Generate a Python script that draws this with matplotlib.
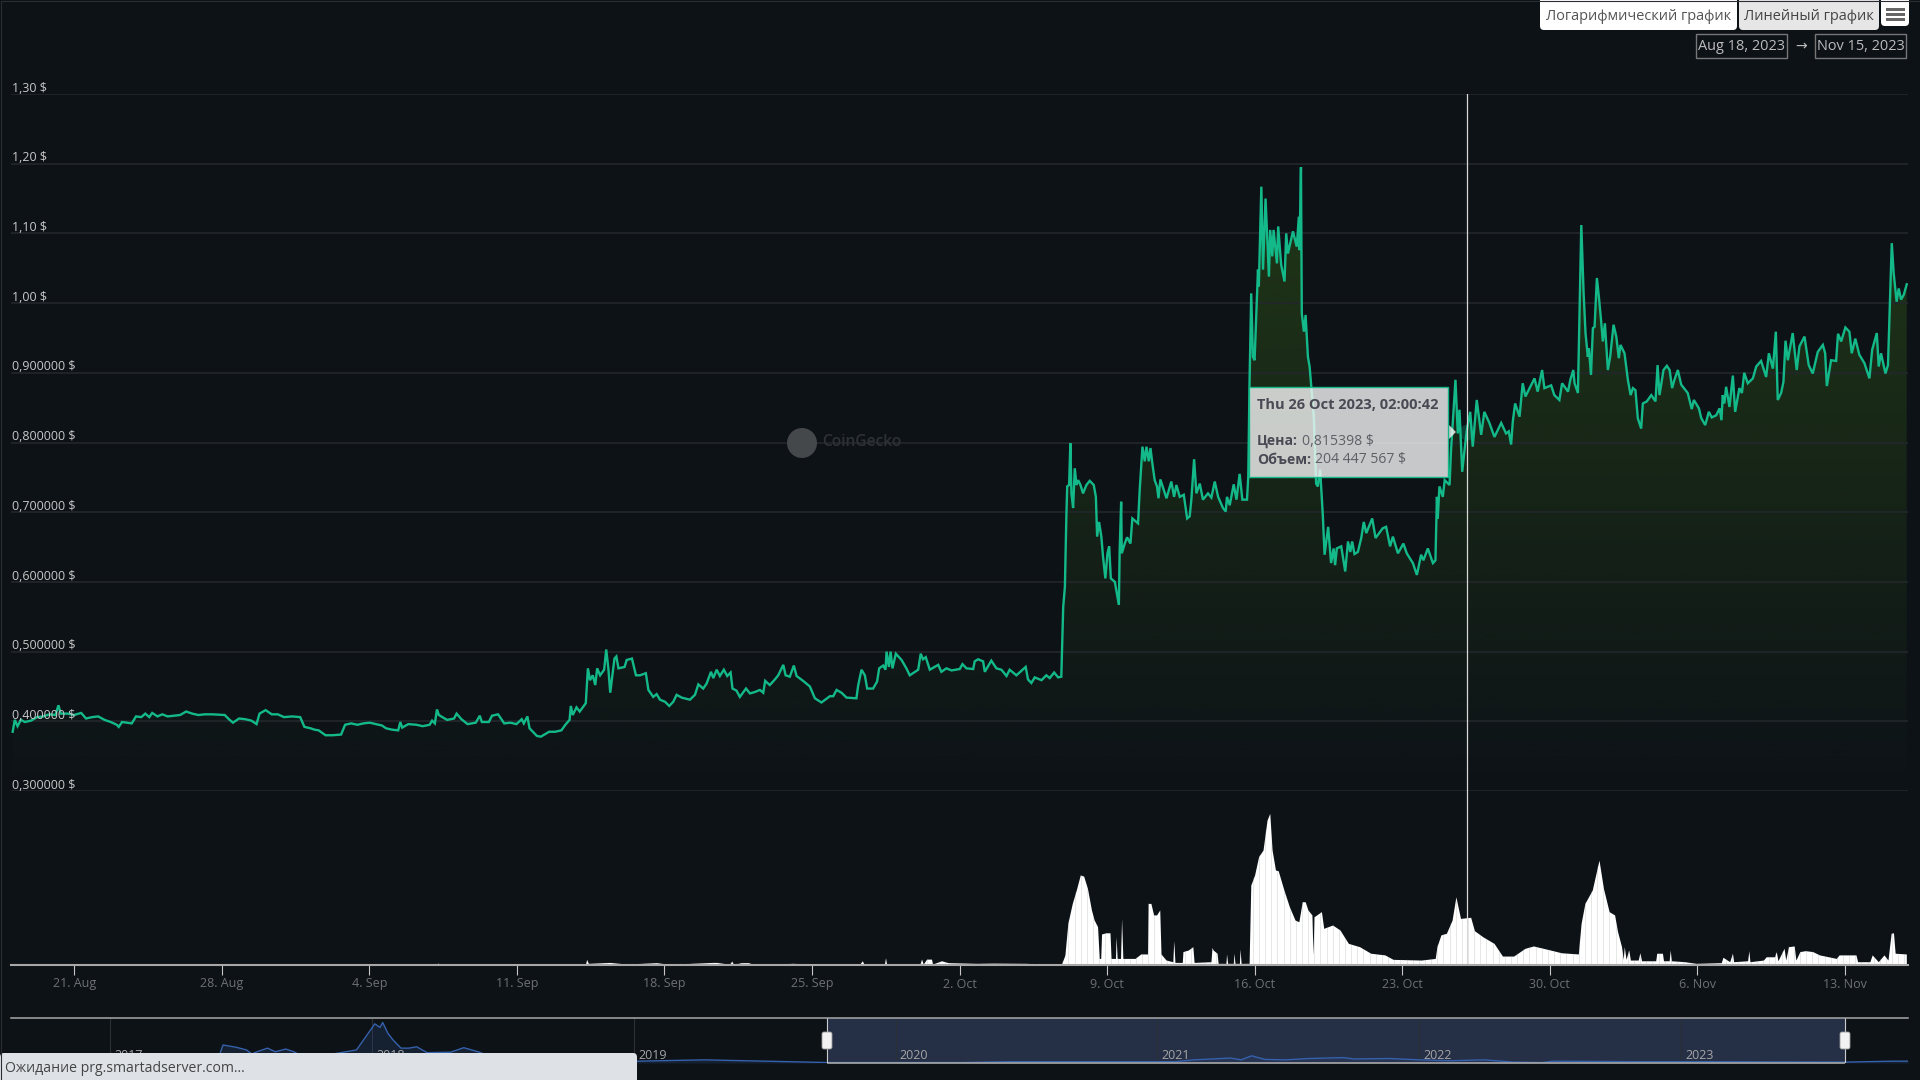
import matplotlib
matplotlib.use("Agg")
import matplotlib.pyplot as plt
import numpy as np
from matplotlib.patches import Circle, FancyBboxPatch, Polygon, Rectangle

plt.rcParams["font.family"] = ["Open Sans", "DejaVu Sans"]

# price, x = days since 18 Aug 2023 00:00
price_days = [
    0.08, 0.18, 0.31, 0.47, 0.66, 0.95, 1.24, 1.53, 1.82, 2.11, 2.25, 2.36, 2.69, 2.98, 3.33, 3.56, 3.85, 4.14, 4.44, 4.73,
    5.02, 5.11, 5.27, 5.50, 5.73, 5.93, 6.18, 6.37, 6.56, 6.70, 6.95, 7.18, 7.43, 7.73, 8.02, 8.31, 8.60, 8.89, 9.18, 9.56,
    10.14, 10.34, 10.53, 10.82, 11.11, 11.40, 11.65, 11.79, 12.08, 12.37, 12.66, 12.95, 13.34, 13.72, 13.92, 14.21, 14.40, 14.60, 14.92, 15.27,
    15.66, 15.85, 16.14, 16.43, 16.72, 17.02, 17.31, 17.60, 17.79, 18.08, 18.37, 18.47, 18.56, 18.85, 19.24, 19.53, 19.86, 19.98, 20.11, 20.21,
    20.30, 20.69, 21.02, 21.14, 21.37, 21.66, 22.05, 22.24, 22.34, 22.67, 22.82, 23.11, 23.40, 23.69, 23.98, 24.23, 24.33, 24.50, 24.60, 24.95,
    25.14, 25.53, 25.82, 26.11, 26.30, 26.50, 26.56, 26.65, 26.83, 26.98, 27.27, 27.37, 27.47, 27.60, 27.72, 27.81, 27.95, 28.14, 28.24, 28.34,
    28.43, 28.63, 28.72, 28.82, 29.11, 29.21, 29.46, 29.65, 29.84, 30.12, 30.24, 30.47, 30.63, 30.79, 31.03, 31.23, 31.42, 31.58, 31.82, 32.21,
    32.45, 32.61, 32.84, 33.00, 33.21, 33.32, 33.48, 33.63, 33.82, 33.98, 34.14, 34.23, 34.42, 34.58, 34.87, 35.06, 35.29, 35.53, 35.69, 35.78,
    36.00, 36.24, 36.40, 36.64, 36.75, 36.95, 37.14, 37.27, 37.58, 37.90, 38.14, 38.45, 38.85, 39.01, 39.17, 39.40, 39.64, 40.11, 40.19, 40.35,
    40.51, 40.62, 40.90, 41.09, 41.19, 41.38, 41.49, 41.54, 41.65, 41.73, 41.82, 41.98, 42.25, 42.48, 42.64, 43.04, 43.16, 43.27, 43.40, 43.59,
    43.99, 44.14, 44.38, 44.62, 45.01, 45.14, 45.33, 45.65, 45.72, 45.88, 46.12, 46.20, 46.51, 46.75, 46.99, 47.23, 47.38, 47.70, 48.14, 48.25,
    48.41, 48.57, 48.89, 49.12, 49.28, 49.49, 49.68, 49.83, 49.92, 50.00, 50.07, 50.11, 50.20, 50.26, 50.31, 50.39, 50.47, 50.55, 50.63, 50.74,
    50.86, 51.02, 51.18, 51.37, 51.47, 51.53, 51.62, 51.73, 51.81, 51.92, 52.02, 52.10, 52.18, 52.37, 52.56, 52.60, 52.67, 52.70, 52.84, 52.95,
    53.11, 53.20, 53.47, 53.55, 53.68, 53.79, 53.87, 53.98, 54.06, 54.15, 54.26, 54.37, 54.44, 54.53, 54.82, 55.05, 55.18, 55.29, 55.45, 55.64,
    55.80, 55.92, 56.00, 56.13, 56.24, 56.40, 56.55, 56.79, 56.95, 57.11, 57.27, 57.50, 57.63, 57.69, 57.82, 58.01, 58.14, 58.29, 58.42, 58.64,
    58.70, 58.76, 58.84, 58.92, 59.00, 59.16, 59.20, 59.32, 59.40, 59.52, 59.68, 59.74, 59.84, 59.90, 60.06, 60.12, 60.26, 60.42, 60.50, 60.58,
    60.82, 61.00, 61.10, 61.13, 61.20, 61.24, 61.34, 61.42, 61.53, 61.61, 61.69, 61.81, 61.92, 62.00, 62.11, 62.24, 62.32, 62.49, 62.63, 62.75,
    62.82, 62.90, 63.11, 63.30, 63.43, 63.54, 63.63, 63.74, 63.90, 64.06, 64.18, 64.30, 64.58, 64.74, 65.08, 65.24, 65.43, 65.56, 65.80, 66.06,
    66.22, 66.51, 66.70, 66.90, 67.01, 67.22, 67.46, 67.58, 67.65, 67.69, 67.77, 67.93, 68.02, 68.25, 68.32, 68.53, 68.64, 68.72, 68.85, 68.96,
    69.07, 69.23, 69.35, 69.54, 69.75, 69.90, 70.14, 70.38, 70.70, 70.93, 71.06, 71.17, 71.25, 71.36, 71.57, 71.72, 71.85, 72.28, 72.43, 72.64,
    72.75, 73.07, 73.22, 73.46, 73.59, 73.87, 73.98, 74.12, 74.18, 74.34, 74.42, 74.50, 74.61, 74.70, 74.81, 74.86, 74.96, 75.05, 75.13, 75.24,
    75.34, 75.45, 75.52, 75.62, 75.76, 75.87, 76.03, 76.16, 76.28, 76.36, 76.55, 76.71, 76.84, 76.95, 77.07, 77.18, 77.34, 77.42, 77.61, 77.82,
    78.02, 78.12, 78.21, 78.40, 78.56, 78.69, 78.81, 78.92, 79.08, 79.24, 79.55, 79.74, 79.84, 80.08, 80.19, 80.38, 80.55, 80.69, 80.90, 81.06,
    81.15, 81.21, 81.29, 81.37, 81.53, 81.69, 81.80, 82.00, 82.12, 82.23, 82.40, 82.64, 82.80, 83.03, 83.27, 83.40, 83.59, 83.73, 83.82, 83.98,
    84.09, 84.19, 84.30, 84.53, 84.72, 84.85, 85.09, 85.29, 85.48, 85.72, 85.96, 86.07, 86.15, 86.35, 86.59, 86.68, 86.83, 87.03, 87.22, 87.33,
    87.50, 87.69, 87.93, 88.17, 88.30, 88.52, 88.61, 88.72, 88.93, 89.05, 89.23, 89.32, 89.46, 89.56, 89.67, 89.80, 89.94,
]
price_values = [
    0.385, 0.402, 0.393, 0.402, 0.399, 0.401, 0.406, 0.407, 0.410, 0.409, 0.423, 0.411, 0.411, 0.409, 0.412, 0.404, 0.406, 0.407, 0.402, 0.399,
    0.395, 0.392, 0.399, 0.398, 0.397, 0.407, 0.406, 0.411, 0.406, 0.412, 0.407, 0.410, 0.407, 0.408, 0.409, 0.414, 0.411, 0.409, 0.410, 0.410,
    0.409, 0.403, 0.398, 0.404, 0.403, 0.401, 0.396, 0.411, 0.416, 0.410, 0.410, 0.406, 0.407, 0.406, 0.392, 0.390, 0.388, 0.387, 0.380, 0.380,
    0.381, 0.395, 0.397, 0.395, 0.397, 0.398, 0.396, 0.394, 0.390, 0.388, 0.387, 0.399, 0.391, 0.396, 0.395, 0.393, 0.395, 0.401, 0.397, 0.417,
    0.409, 0.402, 0.404, 0.411, 0.403, 0.396, 0.398, 0.408, 0.399, 0.399, 0.408, 0.410, 0.397, 0.398, 0.396, 0.403, 0.397, 0.407, 0.390, 0.379,
    0.378, 0.385, 0.385, 0.387, 0.395, 0.402, 0.422, 0.409, 0.420, 0.414, 0.426, 0.476, 0.459, 0.466, 0.452, 0.476, 0.466, 0.474, 0.503, 0.476,
    0.441, 0.490, 0.493, 0.476, 0.478, 0.488, 0.490, 0.466, 0.466, 0.469, 0.445, 0.435, 0.439, 0.431, 0.428, 0.422, 0.428, 0.438, 0.434, 0.431,
    0.438, 0.453, 0.447, 0.454, 0.471, 0.462, 0.474, 0.465, 0.474, 0.465, 0.470, 0.447, 0.444, 0.435, 0.447, 0.440, 0.442, 0.445, 0.441, 0.458,
    0.452, 0.460, 0.466, 0.481, 0.466, 0.464, 0.480, 0.465, 0.458, 0.450, 0.433, 0.427, 0.436, 0.436, 0.445, 0.441, 0.434, 0.433, 0.451, 0.474,
    0.466, 0.447, 0.447, 0.457, 0.476, 0.480, 0.474, 0.500, 0.478, 0.500, 0.476, 0.497, 0.488, 0.476, 0.466, 0.474, 0.497, 0.489, 0.492, 0.474,
    0.481, 0.471, 0.476, 0.473, 0.475, 0.482, 0.476, 0.475, 0.486, 0.489, 0.486, 0.471, 0.487, 0.476, 0.474, 0.465, 0.474, 0.466, 0.478, 0.460,
    0.455, 0.463, 0.459, 0.466, 0.462, 0.470, 0.463, 0.464, 0.564, 0.593, 0.694, 0.737, 0.739, 0.799, 0.727, 0.706, 0.763, 0.739, 0.746, 0.739,
    0.727, 0.739, 0.745, 0.739, 0.722, 0.665, 0.686, 0.665, 0.636, 0.605, 0.641, 0.651, 0.605, 0.600, 0.567, 0.646, 0.715, 0.641, 0.655, 0.664,
    0.655, 0.691, 0.684, 0.732, 0.794, 0.773, 0.794, 0.773, 0.792, 0.770, 0.746, 0.737, 0.720, 0.747, 0.720, 0.744, 0.722, 0.739, 0.722, 0.725,
    0.691, 0.694, 0.718, 0.776, 0.727, 0.741, 0.718, 0.727, 0.721, 0.744, 0.722, 0.706, 0.701, 0.722, 0.710, 0.740, 0.718, 0.755, 0.718, 0.718,
    0.751, 0.885, 1.014, 0.923, 0.918, 1.048, 1.024, 1.167, 1.048, 1.150, 1.038, 1.105, 1.067, 1.105, 1.057, 1.110, 1.055, 1.031, 1.100, 1.071,
    1.103, 1.081, 1.124, 1.076, 1.195, 0.985, 0.959, 0.983, 0.923, 0.909, 0.880, 0.837, 0.741, 0.737, 0.761, 0.694, 0.639, 0.679, 0.627, 0.648,
    0.624, 0.648, 0.651, 0.615, 0.658, 0.643, 0.658, 0.640, 0.643, 0.663, 0.686, 0.670, 0.691, 0.663, 0.677, 0.679, 0.651, 0.665, 0.641, 0.655,
    0.641, 0.627, 0.610, 0.639, 0.631, 0.648, 0.627, 0.631, 0.722, 0.691, 0.737, 0.722, 0.746, 0.739, 0.789, 0.890, 0.813, 0.847, 0.758, 0.789,
    0.818, 0.844, 0.794, 0.861, 0.811, 0.844, 0.828, 0.808, 0.828, 0.813, 0.816, 0.797, 0.830, 0.856, 0.837, 0.885, 0.866, 0.892, 0.873, 0.904,
    0.878, 0.882, 0.868, 0.861, 0.885, 0.873, 0.890, 0.904, 0.885, 0.871, 0.990, 1.112, 1.014, 0.957, 0.923, 0.935, 0.897, 0.964, 0.966, 1.036,
    1.007, 0.971, 0.945, 0.971, 0.904, 0.923, 0.969, 0.952, 0.921, 0.940, 0.928, 0.890, 0.868, 0.878, 0.875, 0.835, 0.820, 0.856, 0.859, 0.868,
    0.859, 0.911, 0.868, 0.904, 0.910, 0.904, 0.878, 0.890, 0.904, 0.883, 0.871, 0.848, 0.861, 0.849, 0.835, 0.825, 0.844, 0.836, 0.839, 0.849,
    0.832, 0.868, 0.856, 0.880, 0.851, 0.896, 0.844, 0.878, 0.871, 0.900, 0.885, 0.892, 0.909, 0.917, 0.894, 0.928, 0.906, 0.959, 0.861, 0.871,
    0.887, 0.946, 0.918, 0.957, 0.904, 0.938, 0.952, 0.911, 0.899, 0.930, 0.940, 0.928, 0.881, 0.918, 0.917, 0.956, 0.945, 0.965, 0.959, 0.928,
    0.949, 0.926, 0.914, 0.892, 0.933, 0.957, 0.909, 0.928, 0.899, 0.911, 1.086, 1.043, 1.002, 1.021, 1.005, 1.012, 1.027,
]

# volume in millions of dollars
volume_days = [
    0.0, 0.3, 0.6, 6.8, 7.3, 7.9, 8.3, 16.8, 16.9, 17.0, 20.1, 20.26, 20.4, 22.2, 22.3, 22.4, 23.3, 24.8, 26.4, 26.5, 26.6, 27.25, 27.31, 27.39,
    28.42, 29.21, 30.63, 31.2, 33.32, 33.48, 34.1, 34.19, 34.28, 34.66, 34.98, 35.22, 37.11, 38.06, 40.27, 40.39, 40.46, 41.44, 41.49, 41.54,
    43.12, 43.2, 43.28, 43.44, 43.67, 43.72, 44.15, 44.46, 45.81, 46.6, 48.18, 49.28, 49.84, 50.0, 50.14, 50.35, 50.54, 50.73, 50.89, 51.07,
    51.26, 51.39, 51.55, 51.63, 51.70, 51.74, 51.95, 52.14, 52.19, 52.40, 52.43, 52.48, 52.64, 52.69, 52.75, 53.33, 53.6, 53.92, 53.95, 54.08,
    54.21, 54.35, 54.5, 54.56, 54.8, 55.12, 55.17, 55.22, 55.57, 55.6, 55.86, 56.07, 56.13, 56.93, 56.98, 57.03, 57.22, 57.27, 57.64, 57.67,
    57.72, 57.99, 58.02, 58.07, 58.28, 58.31, 58.36, 58.74, 58.82, 59.0, 59.19, 59.4, 59.59, 59.72, 59.83, 59.99, 60.12, 60.39, 60.65, 60.92,
    61.1, 61.26, 61.4, 61.53, 61.72, 61.77, 61.82, 62.17, 62.28, 62.7, 63.05, 63.45, 63.98, 64.51, 65.18, 65.57, 66.9, 67.57, 67.65, 67.84,
    68.1, 68.37, 68.55, 68.77, 69.25, 69.43, 69.83, 70.36, 70.76, 71.29, 71.83, 72.23, 73.02, 73.56, 74.36, 74.49, 74.67, 75.02, 75.34, 75.55,
    75.82, 76.08, 76.22, 76.41, 76.49, 76.54, 76.62, 76.75, 76.83, 77.2, 77.28, 77.36, 78.03, 78.08, 78.35, 78.4, 78.67, 78.72, 78.77, 79.41,
    79.94, 81.14, 81.22, 81.54, 81.67, 81.73, 82.39, 82.45, 82.5, 83.14, 83.27, 83.67, 83.75, 83.83, 84.12, 84.2, 84.33, 84.6, 84.68, 84.87,
    85.13, 85.48, 85.8, 86.6, 86.73, 87.53, 87.61, 88.19, 88.3, 88.59, 88.86, 89.05, 89.2, 89.31, 89.39, 89.92,
]
volume_values = [
    1, 4, 1, 1, 4, 4, 1, 1, 4, 1, 1, 8, 1, 1, 4, 1, 3, 3, 1, 4, 1, 1, 24, 7,
    11, 4, 10, 3, 11, 11, 3, 17, 3, 10, 10, 3, 7, 4, 4, 18, 4, 4, 31, 4,
    4, 25, 4, 25, 25, 4, 18, 10, 7, 8, 7, 3, 4, 42, 177, 262, 319, 383, 378, 326,
    234, 191, 163, 28, 28, 132, 137, 137, 28, 28, 120, 28, 28, 198, 28, 28, 47, 47, 262, 262,
    213, 213, 234, 47, 21, 14, 103, 11, 11, 57, 64, 78, 11, 14, 75, 64, 50, 7, 7, 47,
    7, 7, 50, 7, 7, 68, 7, 7, 340, 383, 461, 489, 616, 645, 489, 404, 401, 319, 248, 191,
    184, 269, 269, 234, 213, 43, 205, 227, 156, 170, 149, 92, 78, 50, 43, 24, 21, 28, 78, 128,
    135, 191, 290, 198, 203, 146, 120, 92, 38, 38, 71, 81, 64, 52, 47, 177, 262, 319, 446, 326,
    227, 213, 142, 78, 24, 78, 24, 64, 21, 21, 52, 18, 18, 50, 50, 18, 18, 64, 18, 14,
    7, 10, 33, 14, 50, 14, 18, 61, 14, 21, 35, 35, 57, 18, 71, 21, 78, 81, 21, 57,
    61, 57, 43, 28, 43, 43, 14, 14, 43, 14, 43, 21, 135, 137, 50, 47,
]

# small overview strip under the chart, height is relative to the strip
overview_years = [
    2017.41, 2017.43, 2017.48, 2017.52, 2017.54, 2017.56, 2017.60, 2017.63, 2017.67, 2017.70, 2017.75, 2017.94, 2017.98, 2018.01, 2018.03, 2018.04,
    2018.06, 2018.08, 2018.11, 2018.14, 2018.17, 2018.21, 2018.30, 2018.35, 2018.41, 2018.45, 2018.69, 2019.01, 2019.27, 2019.74, 2020.25, 2020.44,
    2020.90, 2021.07, 2021.14, 2021.28, 2021.32, 2021.36, 2021.41, 2021.49, 2021.58, 2021.71, 2021.75, 2021.89, 2022.00, 2022.12, 2022.25, 2022.36,
    2022.47, 2022.51, 2022.82, 2023.06, 2023.63, 2023.81, 2023.87,
]
overview_values = [
    0.07, 0.40, 0.35, 0.29, 0.20, 0.25, 0.33, 0.25, 0.31, 0.25, 0.10, 0.29, 0.62, 0.87, 0.79, 0.90,
    0.66, 0.51, 0.33, 0.33, 0.36, 0.23, 0.24, 0.34, 0.24, 0.14, 0.07, 0.04, 0.07, 0.01, 0.01, 0.03,
    0.03, 0.03, 0.07, 0.11, 0.07, 0.16, 0.08, 0.07, 0.10, 0.12, 0.09, 0.10, 0.07, 0.05, 0.07, 0.02,
    0.01, 0.04, 0.03, 0.03, 0.02, 0.04, 0.04,
]
overview_ticks = [2017, 2018, 2019, 2020, 2021, 2022, 2023]
selected_years = [2019.738, 2023.627]

price_ticks = [0.3, 0.4, 0.5, 0.6, 0.7, 0.8, 0.9, 1.0, 1.1, 1.2, 1.3]
price_tick_labels = [
    "0,300000 $", "0,400000 $", "0,500000 $", "0,600000 $", "0,700000 $", "0,800000 $",
    "0,900000 $", "1,00 $", "1,10 $", "1,20 $", "1,30 $",
]
date_ticks = [3, 10, 17, 24, 31, 38, 45, 52, 59, 66, 73, 80, 87]
date_tick_labels = [
    "21. Aug", "28. Aug", "4. Sep", "11. Sep", "18. Sep", "25. Sep", "2. Oct",
    "9. Oct", "16. Oct", "23. Oct", "30. Oct", "6. Nov", "13. Nov",
]
hover_day = 69.09
hover_price = 0.815398

BG = "#0d1217"
GREEN = "#14b98a"
GRID = "#23272c"
W, H = 1920, 1080


def px_rect(left, top, right, bottom):
    return [left / W, 1 - bottom / H, (right - left) / W, (bottom - top) / H]


def px(size):
    return size * 0.72


fig = plt.figure(figsize=(19.2, 10.8), dpi=100, facecolor=BG)

# price panel
ax = fig.add_axes(px_rect(11, 94, 1908, 791), facecolor="none")
ax.set_xlim(0, 90)
ax.set_ylim(0.3, 1.3)
for side in ax.spines.values():
    side.set_visible(False)
ax.set_xticks([])
ax.set_yticks(price_ticks)
ax.set_yticklabels([])
ax.tick_params(left=False)
ax.grid(axis="y", color=GRID, linewidth=1.2, zorder=2)
ax.set_axisbelow(False)

# area under the line fades out towards the bottom
fade = np.linspace(0, 1, 256)[:, None, None]
gradient = (np.array([13, 18, 23]) + fade * (np.array([35, 60, 23]) - np.array([13, 18, 23]))) / 255
area = ax.fill_between(price_days, price_values, 0.3, color="none")
im = ax.imshow(gradient, extent=[0, 90, 0.3, 1.3], origin="lower", aspect="auto", zorder=1)
im.set_clip_path(area.get_paths()[0], transform=ax.transData)
ax.set_xlim(0, 90)
ax.set_ylim(0.3, 1.3)

ax.plot(price_days, price_values, color=GREEN, linewidth=1.7, solid_joinstyle="miter", zorder=3)
ax.scatter([hover_day], [hover_price], s=130, color=GREEN, alpha=0.25, linewidths=0, zorder=3)
ax.axvline(hover_day, color="#d8d8d8", linewidth=0.9, zorder=4)

for tick, label in zip(price_ticks, price_tick_labels):
    ax.annotate(label, xy=(0, tick), xycoords=("axes fraction", "data"), xytext=(1, 4.2),
                textcoords="offset points", va="center", ha="left", color="#c8c8c8", fontsize=px(12.4), zorder=5)

# volume panel
vol = fig.add_axes(px_rect(11, 791, 1908, 965), facecolor="none")
vol.set_xlim(0, 90)
vol.set_ylim(0, 740)
volume_area = vol.fill_between(volume_days, volume_values, 0, color="white", linewidth=0)
# grey streaks inside the white area
streaks = vol.vlines(np.arange(0, 90, 7 / 24), 0, 740, color="#8c8f92", linewidth=0.5, alpha=0.3)
streaks.set_clip_path(volume_area.get_paths()[0], transform=vol.transData)
vol.axvline(hover_day, color="#d8d8d8", linewidth=0.9)
for name, side in vol.spines.items():
    side.set_visible(name == "bottom")
vol.spines["bottom"].set_color("#a8a8a8")
vol.spines["bottom"].set_linewidth(1.5)
vol.set_yticks([])
vol.set_xticks(date_ticks)
vol.set_xticklabels(date_tick_labels)
vol.tick_params(axis="x", length=7.2, width=0.8, color="#c8c8c8", labelcolor="#6d7175", labelsize=px(12.5), pad=1.8)

# overview strip
nav = fig.add_axes(px_rect(11, 1018, 1908, 1063), facecolor="none")
nav.set_xlim(2016.62, 2023.868)
nav.set_ylim(0, 1)
nav.axvspan(selected_years[0], selected_years[1], color="#252f45", zorder=0)
for year in overview_ticks:
    nav.axvline(year, color="#2b3037", linewidth=0.8, zorder=1)
    nav.annotate(str(year), xy=(year, 0), xycoords=("data", "axes fraction"), xytext=(3, 0.5),
                 textcoords="offset points", va="bottom", ha="left", color="#a5a5a5", fontsize=px(12.5), zorder=4)
nav.fill_between(overview_years, overview_values, 0, color="#2f4a80", alpha=0.25, linewidth=0, zorder=2)
nav.plot(overview_years, overview_values, color="#3561ad", linewidth=1.0, zorder=3)
for name, side in nav.spines.items():
    side.set_visible(name == "top")
nav.spines["top"].set_color("#a8a8a8")
nav.spines["top"].set_linewidth(1.1)
nav.set_xticks([])
nav.set_yticks([])
nav.hlines(0, selected_years[0], selected_years[1], color="#a8a8a8", linewidth=1.2, zorder=3, clip_on=False)
nav.vlines(selected_years, 0, 1, color="#cccccc", linewidth=0.8, zorder=3)

# page furniture on top, drawn in screen pixels
ui = fig.add_axes([0, 0, 1, 1], facecolor="none", zorder=10)
ui.set_xlim(0, W)
ui.set_ylim(H, 0)
ui.axis("off")

# faint frame along the window edge
ui.plot([0.5, 0.5, W], [H, 0.5, 0.5], color="#2a2e33", linewidth=0.8)

# watermark
ui.add_patch(Circle((802, 443), 15, color="#45484b", linewidth=0))
ui.text(822, 442, "CoinGecko", color="#2e3236", fontsize=px(15.5), fontweight="semibold", va="center", ha="left")


def button(left, top, right, bottom, color):
    ui.add_patch(FancyBboxPatch((left + 3, top + 3), right - left - 6, bottom - top - 6,
                                boxstyle="round,pad=3,rounding_size=4", facecolor=color, edgecolor="none"))


button(1540, -6, 1737, 30, "white")
ui.text(1638.5, 16.5, "Логарифмический график", color="#555555", fontsize=px(14.5), ha="center", va="center")
button(1739, -6, 1879, 30, "#e6e6e6")
ui.text(1809, 16.5, "Линейный график", color="#444444", fontsize=px(14.5), ha="center", va="center")
button(1881, -6, 1909, 26, "white")
for bar_y in [8, 13, 18]:
    ui.add_patch(Rectangle((1886, bar_y), 19, 3, color="#666666", linewidth=0))

for box_left, box_right, label in [(1696, 1787, "Aug 18, 2023"), (1815, 1906, "Nov 15, 2023")]:
    ui.add_patch(Rectangle((box_left, 34), box_right - box_left, 24, facecolor="none", edgecolor="#777777", linewidth=1.0))
    ui.text((box_left + box_right) / 2, 46, label, color="#bcbcbc", fontsize=px(14.5), ha="center", va="center")
ui.text(1801, 46, "→", color="#bcbcbc", fontsize=px(14), ha="center", va="center", family="DejaVu Sans")

# tooltip
ui.add_patch(Polygon([(1448, 424), (1456, 432), (1448, 440)], facecolor=(0.97, 0.97, 0.97, 0.8), edgecolor="none"))
ui.add_patch(Rectangle((1248.5, 386.5), 199.5, 90, facecolor=(0.97, 0.97, 0.97, 0.8), edgecolor=GREEN, linewidth=1.0))
TIP = "#4a4a55"
ui.text(1257, 405, "Thu 26 Oct 2023, 02:00:42", color=TIP, fontsize=px(14.6), fontweight="bold", va="center")
ui.text(1257, 441.5, "Цена:", color=TIP, fontsize=px(14), fontweight="bold", va="center")
ui.text(1302, 441.5, "0,815398 $", color="#5f5f68", fontsize=px(14), va="center")
ui.text(1257, 460, "Объем:", color=TIP, fontsize=px(14), fontweight="bold", va="center")
ui.text(1315, 460, "204 447 567 $", color="#5f5f68", fontsize=px(14), va="center")

# browser status bar
ui.add_patch(FancyBboxPatch((3, 1056), 631, 30, boxstyle="round,pad=3,rounding_size=4", facecolor="#dee2e6", edgecolor="none"))
ui.text(5, 1069, "Ожидание prg.smartadserver.com...", color="#444444", fontsize=px(14), va="center")
# handles of the overview selection
for handle_x in [827, 1845]:
    ui.add_patch(FancyBboxPatch((handle_x - 4, 1033), 8, 15, boxstyle="round,pad=1,rounding_size=2",
                                facecolor="#f2f2f2", edgecolor="#999999", linewidth=0.6))

fig.savefig("out.png", dpi=100, facecolor=BG)
